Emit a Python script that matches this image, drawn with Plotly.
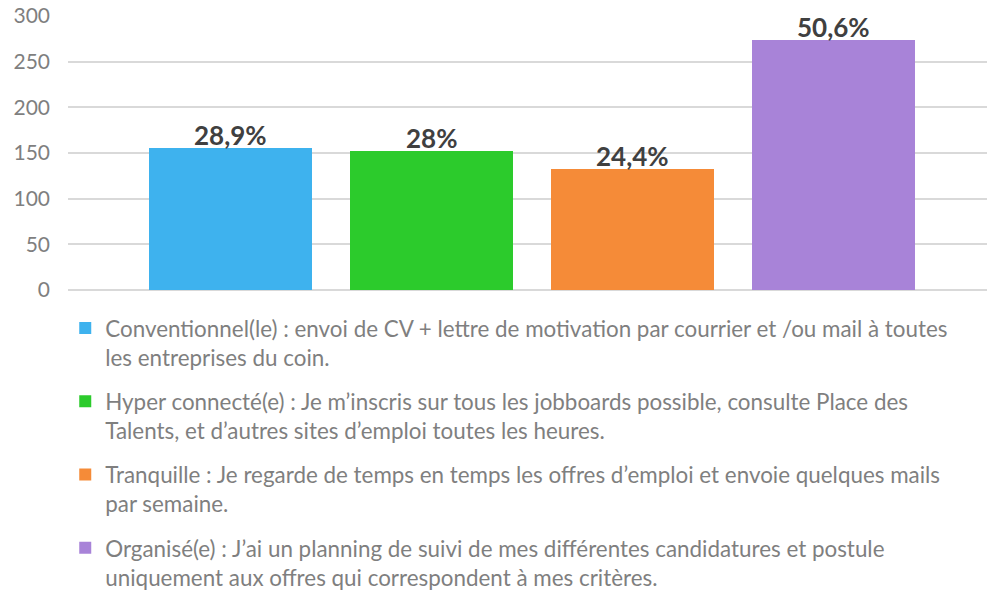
import plotly.graph_objects as go

categories = [
    "Conventionnel(le) : envoi de CV + lettre de motivation par courrier et /ou mail à toutes<br>les entreprises du coin.",
    "Hyper connecté(e) : Je m’inscris sur tous les jobboards possible, consulte Place des<br>Talents, et d’autres sites d’emploi toutes les heures.",
    "Tranquille : Je regarde de temps en temps les offres d’emploi et envoie quelques mails<br>par semaine.",
    "Organisé(e) : J’ai un planning de suivi de mes différentes candidatures et postule<br>uniquement aux offres qui correspondent à mes critères.",
]
values = [156, 152, 132, 274]
labels = ["28,9%", "28%", "24,4%", "50,6%"]
colors = ["#3EB2EE", "#2CCB2C", "#F58B38", "#A883D8"]
y_ticks = [0, 50, 100, 150, 200, 250, 300]

FONT = "Lato"
fig = go.Figure()
for i, (name, v, lab, c) in enumerate(zip(categories, values, labels, colors)):
    fig.add_trace(go.Bar(
        x=[i], y=[v], name=name, width=0.81,
        marker=dict(color=c, line=dict(width=0)),
        legendgroup=f"g{i}", hoverinfo="skip",
    ))
    fig.add_annotation(
        x=i, y=v, text=f"<b>{lab}</b>", showarrow=False,
        xanchor="center", yanchor="bottom", yshift=-5,
        font=dict(family=FONT, size=26, color="#404040"),
    )

fig.update_layout(
    width=987, height=595,
    margin=dict(l=68, r=0, t=16, b=305, autoexpand=False),
    paper_bgcolor="white", plot_bgcolor="white",
    font=dict(family=FONT, color="#7F7F7F"),
    showlegend=True,
    legend=dict(
        orientation="v", x=-0.003, y=-0.062, xanchor="left", yanchor="top",
        font=dict(family=FONT, size=22.4, color="#7F7F7F"),
        valign="top", tracegroupgap=12, itemwidth=30,
        bgcolor="rgba(0,0,0,0)",
    ),
    xaxis=dict(range=[-0.808, 3.764], showticklabels=False, showgrid=False,
               zeroline=False, showline=False, fixedrange=True, automargin=False),
    yaxis=dict(range=[0, 300], tickvals=y_ticks, showgrid=True,
               gridcolor="#D9D9D9", gridwidth=1.5, zeroline=True,
               zerolinecolor="#D9D9D9", zerolinewidth=1.5,
               tickfont=dict(family=FONT, size=21, color="#7F7F7F"),
               ticks="", ticklabelstandoff=17, showline=False, automargin=False),
    bargap=0,
)
fig.write_html("out.html", post_script="document.body.style.margin='0';",
               config={"displayModeBar": False})
